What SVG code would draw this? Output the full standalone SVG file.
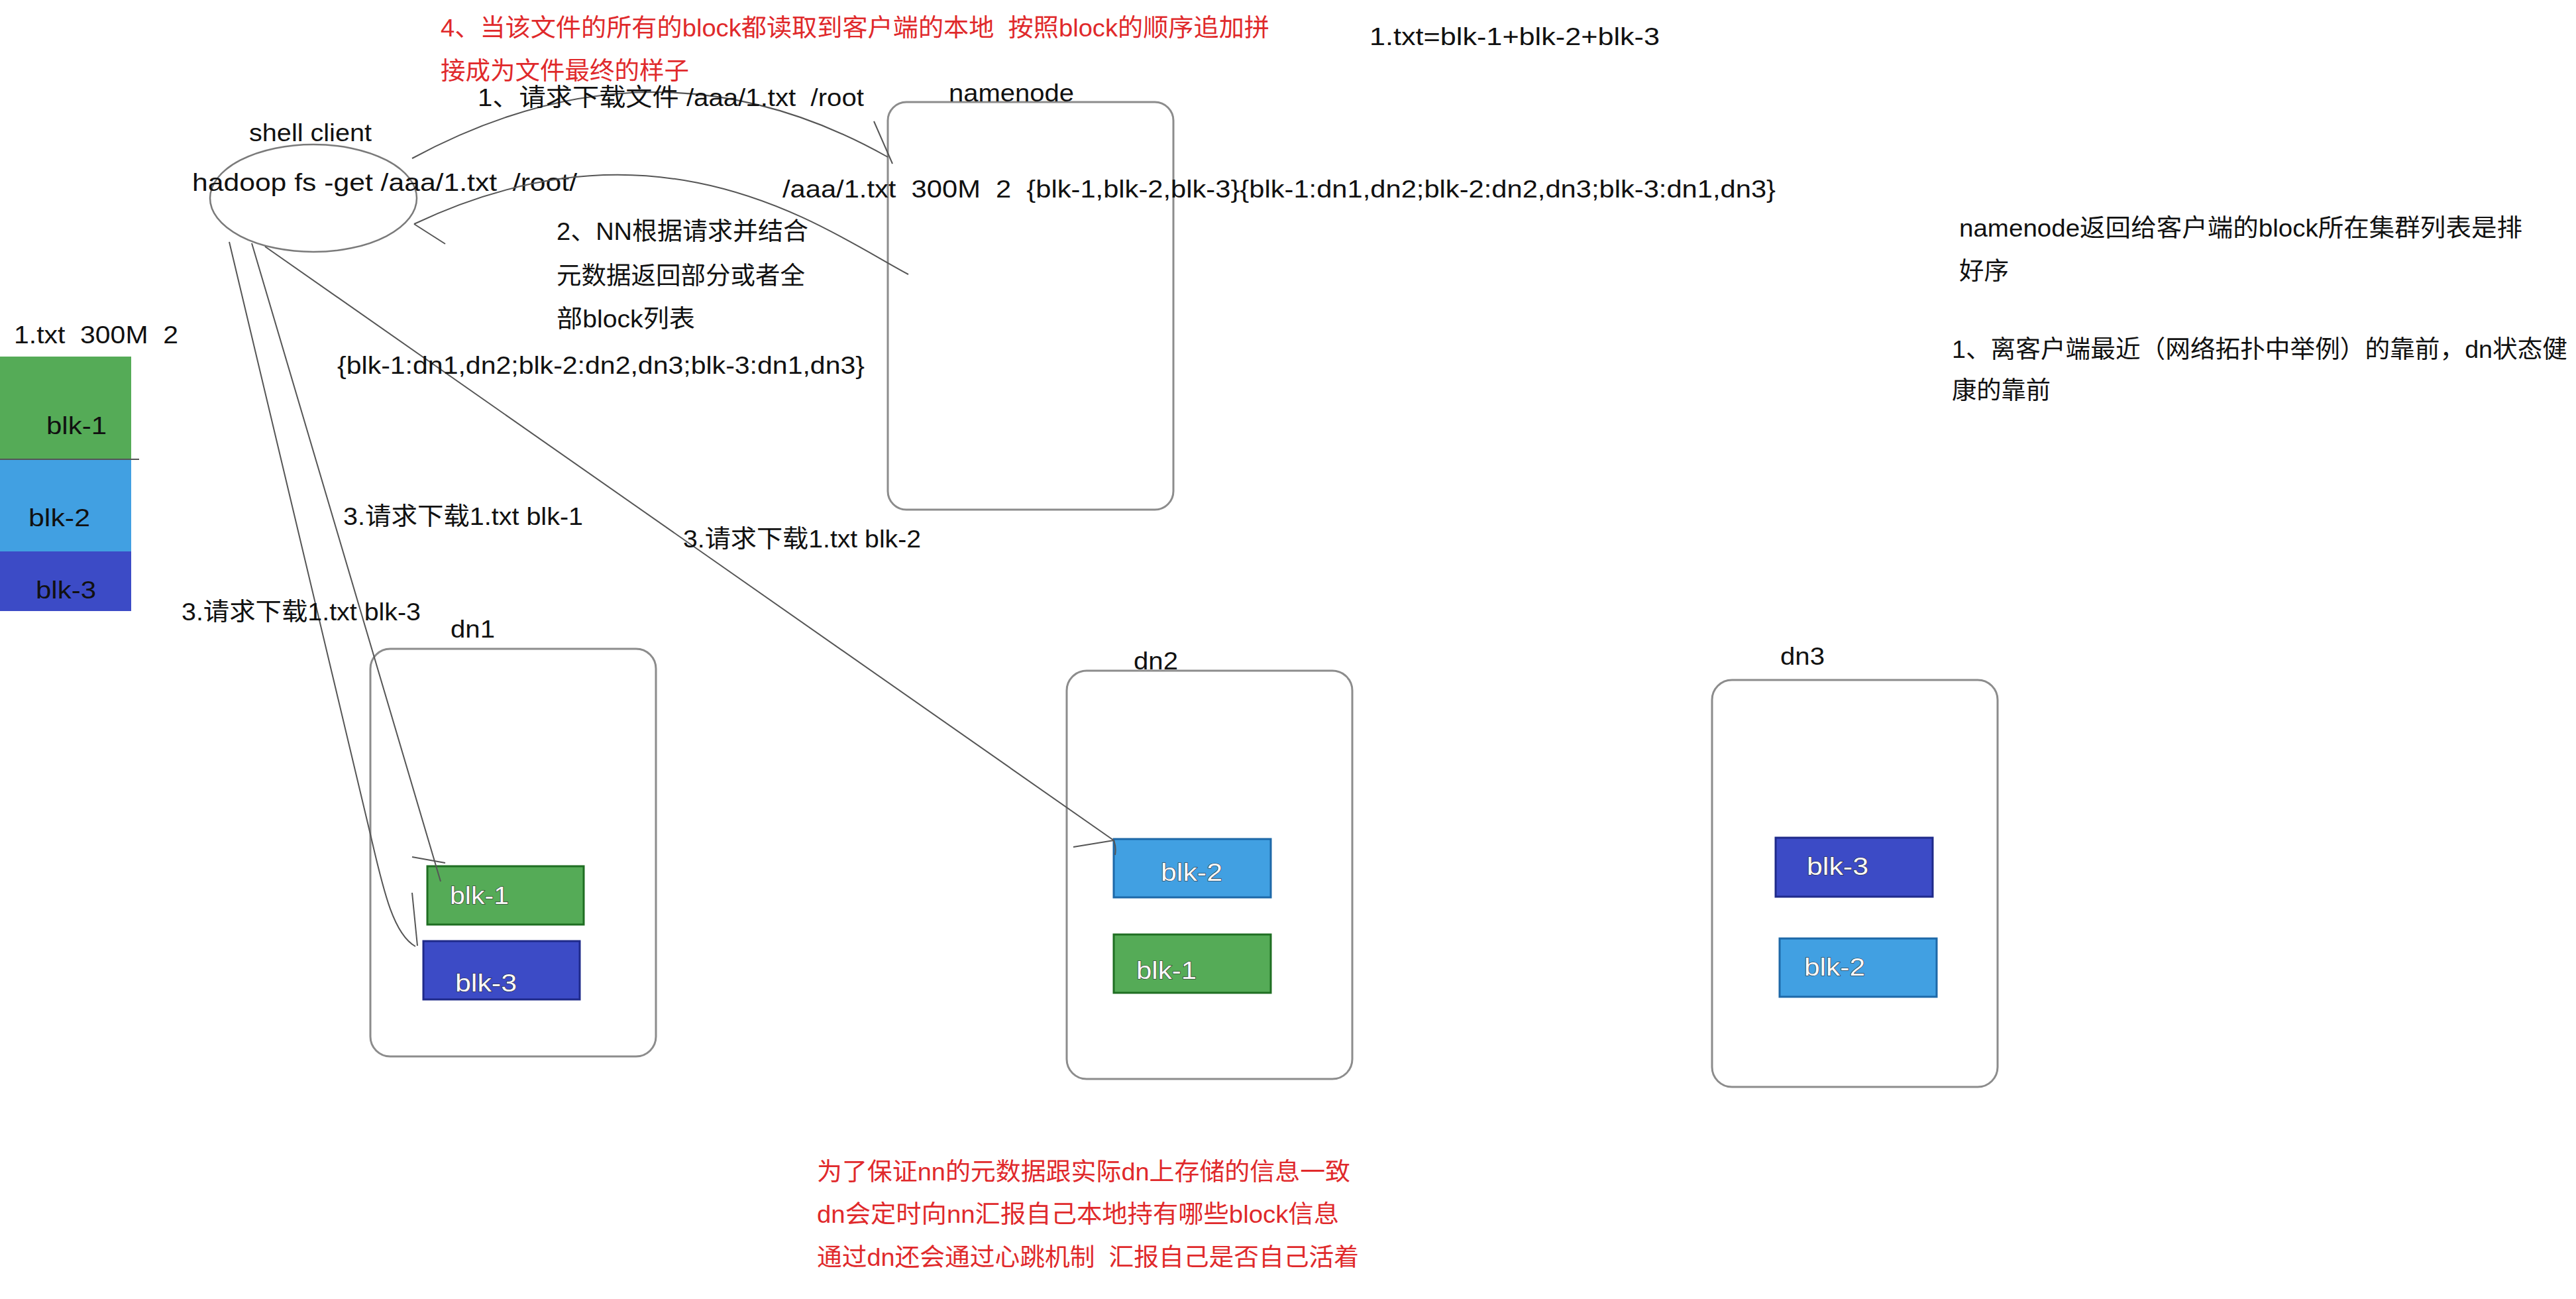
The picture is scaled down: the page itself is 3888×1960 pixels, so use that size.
<svg xmlns="http://www.w3.org/2000/svg" width="3888" height="1960" viewBox="0 0 3888 1960" xml:space="preserve">
<defs>
<style>
text { font-family: "Liberation Sans", "Noto Sans CJK SC", sans-serif; font-size: 37px; fill: #111; white-space: pre; }
.red { fill: #e0292b; }
.box { fill: none; stroke: #8c8c8c; stroke-width: 3; }
.conn { fill: none; stroke: #555; stroke-width: 2; }
.g { fill: #55ab57; stroke: #1f6e22; stroke-width: 3; }
.lb { fill: #41a0e2; stroke: #1d68a8; stroke-width: 3; }
.db { fill: #3c4bc6; stroke: #1f2a8a; stroke-width: 3; }
.inv { fill: #fafafa; stroke: #2a2a2a; stroke-width: 1.2; paint-order: stroke; }
</style>
</defs>
<rect width="3888" height="1960" fill="#ffffff"/>

<g id="notes">
<text class="red" x="665" y="55" textLength="1251" lengthAdjust="spacingAndGlyphs">4、当该文件的所有的block都读取到客户端的本地  按照block的顺序追加拼</text>
<text class="red" x="665" y="120" textLength="375" lengthAdjust="spacingAndGlyphs">接成为文件最终的样子</text>
<text x="2067" y="68" textLength="438" lengthAdjust="spacingAndGlyphs">1.txt=blk-1+blk-2+blk-3</text>
<text x="2957" y="357" textLength="850" lengthAdjust="spacingAndGlyphs">namenode返回给客户端的block所在集群列表是排</text>
<text x="2957" y="422" textLength="75" lengthAdjust="spacingAndGlyphs">好序</text>
<text x="2946" y="540" textLength="929" lengthAdjust="spacingAndGlyphs">1、离客户端最近（网络拓扑中举例）的靠前，dn状态健</text>
<text x="2946" y="602" textLength="149" lengthAdjust="spacingAndGlyphs">康的靠前</text>
<text class="red" x="1233" y="1781" textLength="805" lengthAdjust="spacingAndGlyphs">为了保证nn的元数据跟实际dn上存储的信息一致</text>
<text class="red" x="1233" y="1845" textLength="788" lengthAdjust="spacingAndGlyphs">dn会定时向nn汇报自己本地持有哪些block信息</text>
<text class="red" x="1233" y="1910" textLength="818" lengthAdjust="spacingAndGlyphs">通过dn还会通过心跳机制  汇报自己是否自己活着</text>
</g>

<g id="file">
<text x="21" y="518" textLength="248" lengthAdjust="spacingAndGlyphs">1.txt  300M  2</text>
<rect x="0" y="538" width="198" height="155" fill="#55ab57"/>
<rect x="0" y="693" width="198" height="139" fill="#41a0e2"/>
<rect x="0" y="832" width="198" height="90" fill="#3c4bc6"/>
<line x1="0" y1="693" x2="210" y2="693" stroke="#555" stroke-width="2"/>
<text x="70" y="655" textLength="91" lengthAdjust="spacingAndGlyphs">blk-1</text>
<text x="43" y="794" textLength="93" lengthAdjust="spacingAndGlyphs">blk-2</text>
<text x="54" y="903" textLength="91" lengthAdjust="spacingAndGlyphs">blk-3</text>
</g>

<g id="client">
<ellipse cx="473" cy="299" rx="156" ry="81" fill="none" stroke="#7a7a7a" stroke-width="2.5"/>
<text x="376" y="213" textLength="185" lengthAdjust="spacingAndGlyphs">shell client</text>
<text x="290" y="288" textLength="581" lengthAdjust="spacingAndGlyphs">hadoop fs -get /aaa/1.txt  /root/</text>
</g>

<g id="namenode">
<rect class="box" x="1340" y="154" width="431" height="615" rx="28" ry="28"/>
<text x="1432" y="153" textLength="189" lengthAdjust="spacingAndGlyphs">namenode</text>
<text x="1181" y="298" textLength="1499" lengthAdjust="spacingAndGlyphs">/aaa/1.txt  300M  2  {blk-1,blk-2,blk-3}{blk-1:dn1,dn2;blk-2:dn2,dn3;blk-3:dn1,dn3}</text>
</g>

<g id="dn1">
<rect class="box" x="559" y="979" width="431" height="615" rx="30" ry="30"/>
<text x="680" y="962" textLength="67" lengthAdjust="spacingAndGlyphs">dn1</text>
<rect class="g" x="645" y="1307" width="236" height="88"/>
<text class="inv" x="679" y="1364" textLength="89" lengthAdjust="spacingAndGlyphs">blk-1</text>
<rect class="db" x="639" y="1420" width="236" height="88"/>
<text class="inv" x="687" y="1496" textLength="93" lengthAdjust="spacingAndGlyphs">blk-3</text>
</g>

<g id="dn2">
<rect class="box" x="1610" y="1012" width="431" height="616" rx="30" ry="30"/>
<text x="1711" y="1010" textLength="67" lengthAdjust="spacingAndGlyphs">dn2</text>
<rect class="lb" x="1681" y="1266" width="237" height="88"/>
<text class="inv" x="1752" y="1329" textLength="93" lengthAdjust="spacingAndGlyphs">blk-2</text>
<rect class="g" x="1681" y="1410" width="237" height="88"/>
<text class="inv" x="1715" y="1477" textLength="91" lengthAdjust="spacingAndGlyphs">blk-1</text>
</g>

<g id="dn3">
<rect class="box" x="2584" y="1026" width="431" height="614" rx="30" ry="30"/>
<text x="2687" y="1003" textLength="67" lengthAdjust="spacingAndGlyphs">dn3</text>
<rect class="db" x="2680" y="1264" width="237" height="89"/>
<text class="inv" x="2727" y="1320" textLength="93" lengthAdjust="spacingAndGlyphs">blk-3</text>
<rect class="lb" x="2686" y="1416" width="237" height="88"/>
<text class="inv" x="2723" y="1472" textLength="92" lengthAdjust="spacingAndGlyphs">blk-2</text>
</g>

<g id="connectors">
<path class="conn" d="M 622 239 Q 990 40 1340 237"/>
<line class="conn" x1="1319" y1="183" x2="1347" y2="247"/>
<path class="conn" d="M 1371 414 C 1250 350, 1000 160, 625 338"/>
<line class="conn" x1="625" y1="338" x2="672" y2="368"/>
<path class="conn" d="M 346 365 L 560 1263 C 580 1350, 595 1410, 627 1428"/>
<line class="conn" x1="622" y1="1347" x2="630" y2="1427"/>
<line class="conn" x1="380" y1="367" x2="665" y2="1330"/>
<line class="conn" x1="622" y1="1293" x2="672" y2="1302"/>
<line class="conn" x1="400" y1="372" x2="1681" y2="1268"/>
<line class="conn" x1="1620" y1="1278" x2="1681" y2="1268"/>
<path class="conn" d="M 1681 1268 Q 1685 1278 1683 1290"/>
<text x="721" y="160" textLength="583" lengthAdjust="spacingAndGlyphs">1、请求下载文件 /aaa/1.txt  /root</text>
<text x="840" y="362" textLength="380" lengthAdjust="spacingAndGlyphs">2、NN根据请求并结合</text>
<text x="840" y="429" textLength="375" lengthAdjust="spacingAndGlyphs">元数据返回部分或者全</text>
<text x="840" y="494" textLength="209" lengthAdjust="spacingAndGlyphs">部block列表</text>
<text x="509" y="564" textLength="796" lengthAdjust="spacingAndGlyphs">{blk-1:dn1,dn2;blk-2:dn2,dn3;blk-3:dn1,dn3}</text>
<text x="518" y="792" textLength="362" lengthAdjust="spacingAndGlyphs">3.请求下载1.txt blk-1</text>
<text x="1031" y="826" textLength="359" lengthAdjust="spacingAndGlyphs">3.请求下载1.txt blk-2</text>
<text x="274" y="936" textLength="361" lengthAdjust="spacingAndGlyphs">3.请求下载1.txt blk-3</text>
</g>
</svg>
